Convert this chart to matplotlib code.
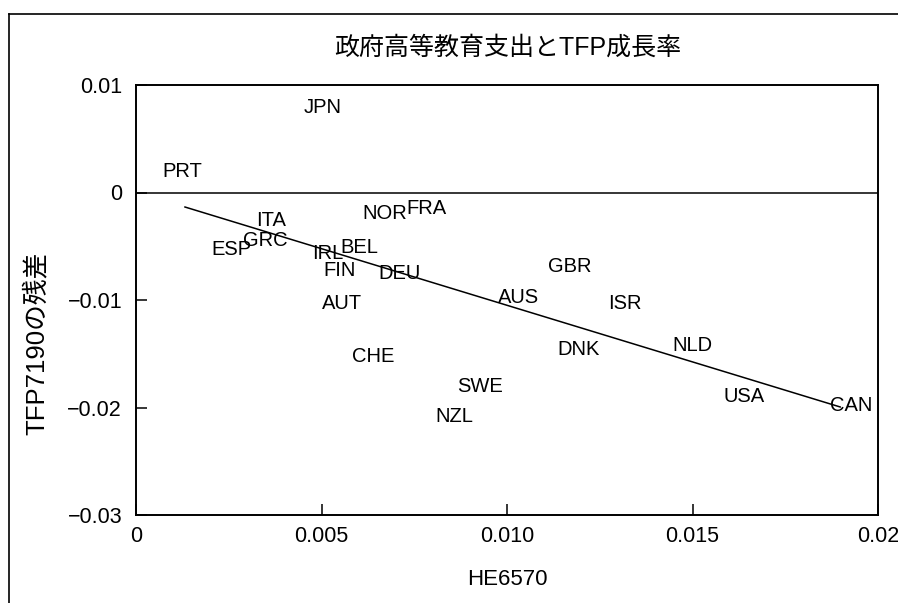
import matplotlib
matplotlib.use('Agg')
import matplotlib.pyplot as plt
from matplotlib.lines import Line2D

plt.rcParams['font.family'] = ['Liberation Sans', 'Noto Sans CJK JP']
plt.rcParams['axes.unicode_minus'] = True

# ---- data ----
countries = ['JPN', 'PRT', 'ITA', 'NOR', 'FRA', 'ESP', 'GRC', 'IRL', 'BEL', 'FIN', 'DEU',
             'AUT', 'CHE', 'GBR', 'AUS', 'ISR', 'DNK', 'NLD', 'SWE', 'NZL', 'USA', 'CAN']
he6570 = [0.00504, 0.00124, 0.00364, 0.00671, 0.00782, 0.00256, 0.00348, 0.00518, 0.00601,
          0.00550, 0.00709, 0.00555, 0.00639, 0.01170, 0.01032, 0.01318, 0.01194, 0.01501,
          0.00927, 0.00857, 0.01639, 0.01927]
resid = [0.00795, 0.00191, -0.00256, -0.00191, -0.00153, -0.00526, -0.00451, -0.00572,
         -0.00507, -0.00730, -0.00749, -0.01037, -0.01521, -0.00684, -0.00981, -0.01028,
         -0.01465, -0.01419, -0.01809, -0.02088, -0.01902, -0.01986]

# fitted line end points
fit_x = [0.00132, 0.01898]
fit_y = [-0.00135, -0.01995]

xticks = [0, 0.005, 0.010, 0.015, 0.02]
xtick_labels = ['0', '0.005', '0.010', '0.015', '0.02']
yticks = [-0.03, -0.02, -0.01, 0, 0.01]
ytick_labels = ['\u22120.03', '\u22120.02', '\u22120.01', '0', '0.01']

title = '政府高等教育支出とTFP成長率'
xlabel = 'HE6570'
ylabel = 'TFP7190の残差'

# ---- figure ----
W, H = 898, 603
fig = plt.figure(figsize=(W / 100, H / 100), dpi=100)
ax = fig.add_axes([136 / W, 88 / H, 742 / W, 430 / H])

ax.set_xlim(0, 0.02)
ax.set_ylim(-0.03, 0.01)

ax.axhline(0, color='black', linewidth=1.1)
ax.plot(fit_x, fit_y, color='black', linewidth=1.1)

for name, x, y in zip(countries, he6570, resid):
    ax.text(x, y, name, ha='center', va='center', fontsize=14.5, color='black')

ax.set_xticks(xticks)
ax.set_xticklabels(xtick_labels)
ax.set_yticks(yticks)
ax.set_yticklabels(ytick_labels)
ax.tick_params(direction='in', length=8, width=1.1, labelsize=15.5)
ax.tick_params(axis='x', pad=8)
ax.tick_params(axis='y', pad=10)

for s in ax.spines.values():
    s.set_linewidth(1.4)

ax.set_xlabel(xlabel, fontsize=16, labelpad=16)
ax.set_ylabel(ylabel, fontsize=18.5)
ax.yaxis.set_label_coords(-0.117, 0.40)

fig.text(508 / W, 1 - 48 / H, title, ha='center', va='center', fontsize=18)

# outer frame (top and left edges)
fig.add_artist(Line2D([9 / W, 1], [1 - 14 / H, 1 - 14 / H], color='black',
                      linewidth=1.2, transform=fig.transFigure))
fig.add_artist(Line2D([9 / W, 9 / W], [0, 1 - 14 / H], color='black',
                      linewidth=1.2, transform=fig.transFigure))

fig.savefig('out.png', dpi=100)
